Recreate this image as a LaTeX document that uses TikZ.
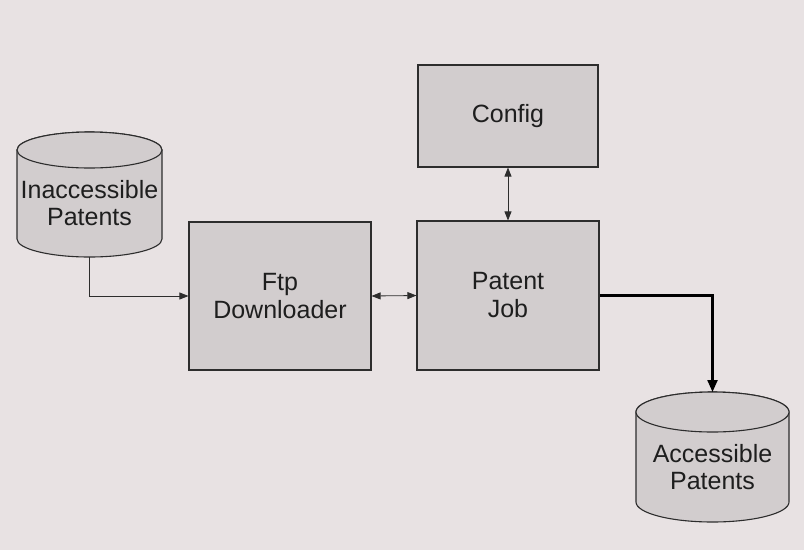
\documentclass[tikz,border=0pt]{standalone}
\usepackage{fontspec}
\setmainfont{Liberation Sans}
\usetikzlibrary{arrows.meta}
\definecolor{bgc}{RGB}{232,226,227}
\definecolor{boxfill}{RGB}{210,205,206}
\definecolor{linec}{RGB}{45,45,45}
\definecolor{txtc}{RGB}{30,30,30}
\tikzset{
  box/.style={draw=linec, line width=1.1pt, fill=boxfill, align=center, text=txtc, font=\fontsize{25}{28}\selectfont, inner sep=0pt},
  lbl/.style={align=center, text=txtc, font=\fontsize{25}{27}\selectfont, inner sep=0pt},
  cyl/.style={draw=linec, line width=1.1pt, fill=boxfill},
  conn/.style={draw=linec, line width=0.8pt, -{Triangle[length=9pt,width=7pt]}},
  biconn/.style={draw=linec, line width=0.8pt, {Triangle[length=9pt,width=7pt]}-{Triangle[length=9pt,width=7pt]}},
  thickconn/.style={draw=black, line width=2.2pt, -{Triangle[length=12pt,width=10pt]}}
}
\begin{document}
\begin{tikzpicture}[x=1pt,y=-1pt]
\fill[bgc] (0,0) rectangle (804,550);
\useasboundingbox (0,0) rectangle (804,550);
% boxes
\node[box, minimum width=180pt, minimum height=102pt] (config) at (508,116) {Config};
\node[box, minimum width=182pt, minimum height=148pt] (ftp) at (280,296) {Ftp\\Downloader};
\node[box, minimum width=182pt, minimum height=149pt] (job) at (508,295.5) {Patent\\Job};
% Inaccessible cylinder
\path[cyl] (17,150) -- (17,239) arc[start angle=180,end angle=360,x radius=72.5,y radius=-18] -- (162,150) arc[start angle=0,end angle=180,x radius=72.5,y radius=-18] -- cycle;
\draw[cyl] (89.5,150) ellipse[x radius=72.5,y radius=18];
\node[lbl] (inacc) at (89.5,203) {Inaccessible\\Patents};
\coordinate (inaccb) at (89.5,257);
% Accessible cylinder
\path[cyl] (636,412) -- (636,502) arc[start angle=180,end angle=360,x radius=76.5,y radius=-20] -- (789,412) arc[start angle=0,end angle=180,x radius=76.5,y radius=-20] -- cycle;
\draw[cyl] (712.5,412) ellipse[x radius=76.5,y radius=20];
\node[lbl] (acc) at (712.5,467) {Accessible\\Patents};
\coordinate (acct) at (712.5,392);
% connectors
\draw[conn] (inaccb) |- (ftp.west);
\draw[biconn] (ftp.east) -- (job.west);
\draw[biconn] (config.south) -- (job.north);
\draw[thickconn] (job.east) -| (acct);
\end{tikzpicture}
\end{document}
